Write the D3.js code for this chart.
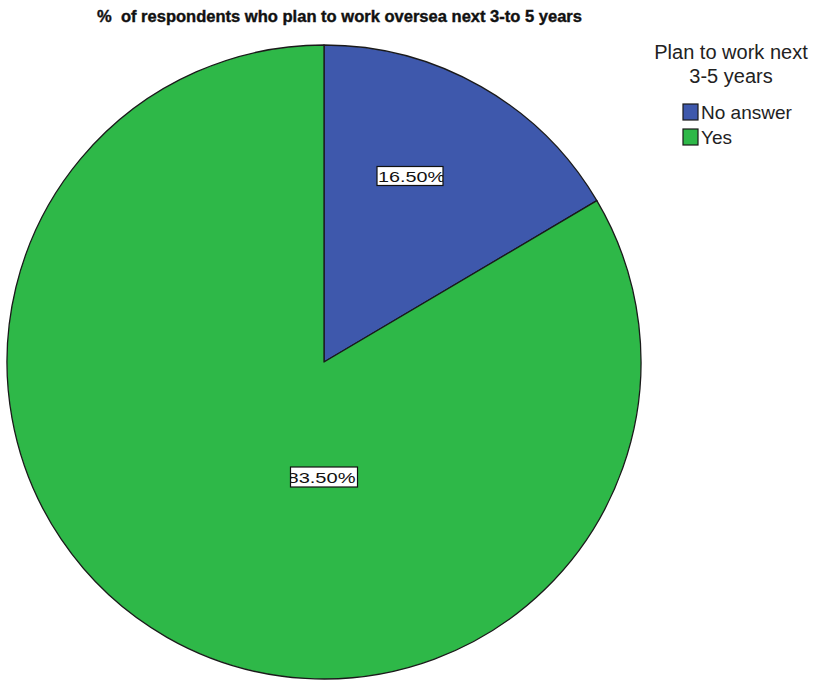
<!DOCTYPE html>
<html>
<head>
<meta charset="utf-8">
<script src="https://cdn.jsdelivr.net/npm/d3@7"></script>
<style>
  html, body { margin: 0; padding: 0; background: #fff; }
  svg { display: block; }
</style>
</head>
<body>
<svg id="chart" width="839" height="681"></svg>
<script>
// Survey answers: share of respondents planning to work overseas
const categories = ["No answer", "Yes"];
const percentValues = [16.5, 83.5];
const sliceColors = ["#3E58AC", "#2EB848"];
const chartTitle = "%  of respondents who plan to work oversea next 3-to 5 years";
const legendTitleLines = ["Plan to work next", "3-5 years"];

const svg = d3.select("#chart");

// Pie geometry
const cx = 324, cy = 362, radius = 317;

const color = d3.scaleOrdinal().domain(categories).range(sliceColors);

const pie = d3.pie().sort(null).value(d => d.value).startAngle(0).endAngle(2 * Math.PI);
const data = categories.map((c, i) => ({ name: c, value: percentValues[i] }));
const arcs = pie(data);
const arc = d3.arc().innerRadius(0).outerRadius(radius);

svg.append("g")
  .attr("transform", `translate(${cx},${cy})`)
  .selectAll("path")
  .data(arcs)
  .join("path")
  .attr("d", arc)
  .attr("fill", d => color(d.data.name))
  .attr("stroke", "#1a1a1a")
  .attr("stroke-width", 1.3)
  .attr("stroke-linejoin", "round");

// Value labels in white boxes
const labelLayout = [
  { dx: 86, dy: -186, w: 66, h: 19, shift: 1 },
  { dx: 0, dy: 115, w: 67, h: 20, shift: -3 }
];
const defs = svg.append("defs");
const labels = svg.append("g");
arcs.forEach((d, i) => {
  const L = labelLayout[i];
  const x0 = cx + L.dx - L.w / 2, y0 = cy + L.dy - L.h / 2;
  defs.append("clipPath").attr("id", "lbl" + i)
    .append("rect").attr("x", x0).attr("y", y0).attr("width", L.w).attr("height", L.h);
  labels.append("rect")
    .attr("x", x0).attr("y", y0).attr("width", L.w).attr("height", L.h)
    .attr("fill", "#fff");
  labels.append("text")
    .attr("clip-path", "url(#lbl" + i + ")")
    .attr("x", x0 + L.shift)
    .attr("y", y0 + L.h - 4)
    .attr("font-family", "Liberation Sans, Arial, sans-serif")
    .attr("font-size", 15)
    .attr("fill", "#111")
    .attr("textLength", L.w + 1)
    .attr("lengthAdjust", "spacingAndGlyphs")
    .text(d.data.value.toFixed(2) + "%");
  labels.append("rect")
    .attr("x", x0).attr("y", y0).attr("width", L.w).attr("height", L.h)
    .attr("fill", "none").attr("stroke", "#111").attr("stroke-width", 1.2);
});

// Title
svg.append("text")
  .attr("x", 97)
  .attr("y", 22)
  .attr("font-family", "Liberation Sans Narrow, Arial Narrow, Liberation Sans, Arial, sans-serif")
  .attr("font-weight", "bold")
  .attr("font-size", 17)
  .attr("fill", "#111")
  .attr("stroke", "#111")
  .attr("stroke-width", 0.4)
  .attr("textLength", 485)
  .attr("lengthAdjust", "spacingAndGlyphs")
  .style("white-space", "pre")
  .text(chartTitle);

// Legend
const legend = svg.append("g");
legendTitleLines.forEach((t, i) => {
  legend.append("text")
    .attr("x", 731)
    .attr("y", 59 + i * 24)
    .attr("text-anchor", "middle")
    .attr("font-family", "Liberation Sans, Arial, sans-serif")
    .attr("font-size", 20)
    .attr("fill", "#222")
    .text(t);
});
const item = legend.selectAll("g.item")
  .data(categories)
  .join("g")
  .attr("class", "item")
  .attr("transform", (d, i) => `translate(683, ${104 + i * 25})`);
item.append("rect")
  .attr("width", 15).attr("height", 16)
  .attr("fill", d => color(d))
  .attr("stroke", "#1a1a1a").attr("stroke-width", 1.2);
item.append("text")
  .attr("x", 18)
  .attr("y", 15)
  .attr("font-family", "Liberation Sans, Arial, sans-serif")
  .attr("font-size", 19)
  .attr("fill", "#222")
  .text(d => d);
</script>
</body>
</html>
